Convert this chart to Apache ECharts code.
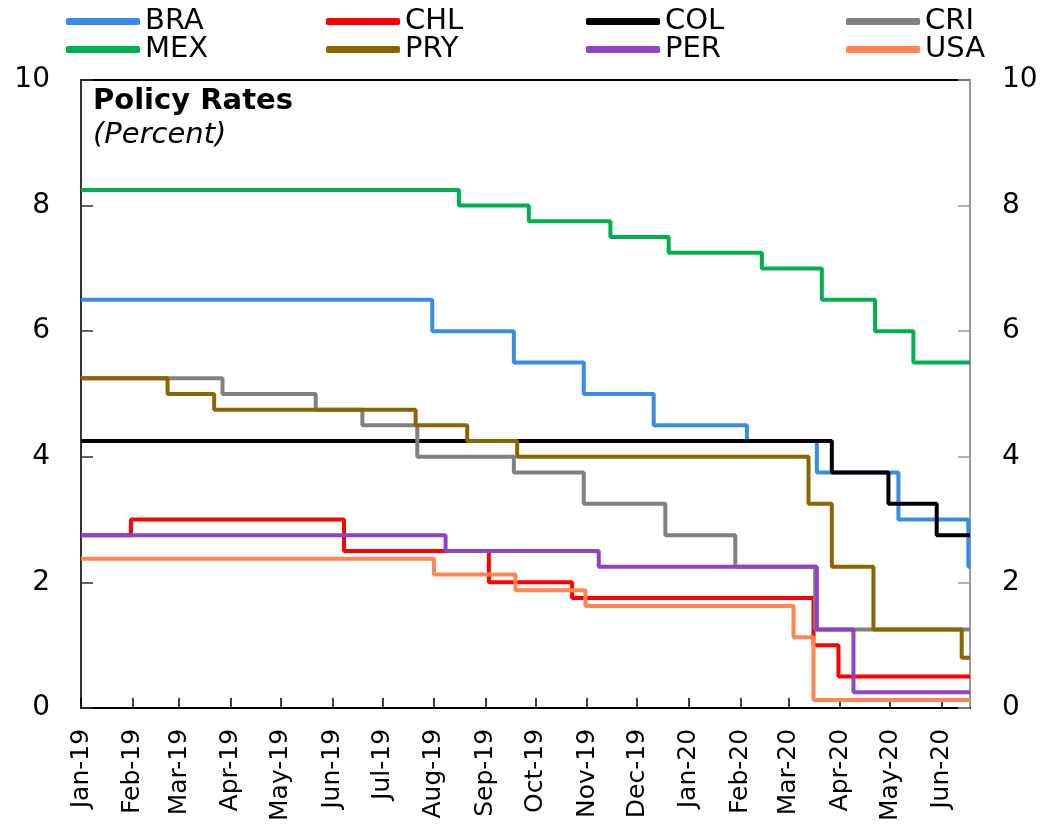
<!DOCTYPE html>
<html>
<head>
<meta charset="utf-8">
<script src="https://cdn.jsdelivr.net/npm/echarts@6/dist/echarts.min.js"></script>
<style>html,body{margin:0;padding:0;background:#fff}#c{width:1043px;height:824px}</style>
</head>
<body>
<div id="c"></div>
<script>
// ---- data (change dates & policy rates, percent) ----
const xStart = '2019-01-01';
const xEnd = '2020-06-18';
const tickLabels = ['Jan-19','Feb-19','Mar-19','Apr-19','May-19','Jun-19','Jul-19','Aug-19','Sep-19','Oct-19','Nov-19','Dec-19','Jan-20','Feb-20','Mar-20','Apr-20','May-20','Jun-20'];
const yTicks = [0, 2, 4, 6, 8, 10];
const countries = ['BRA','CHL','COL','CRI','MEX','PRY','PER','USA'];

const BRA = [['2019-01-01',6.5],['2019-07-31',6.0],['2019-09-18',5.5],['2019-10-30',5.0],['2019-12-11',4.5],['2020-02-05',4.25],['2020-03-18',3.75],['2020-05-06',3.0],['2020-06-17',2.25],['2020-06-18',2.25]];
const CHL = [['2019-01-01',2.75],['2019-01-31',3.0],['2019-06-08',2.5],['2019-09-03',2.0],['2019-10-23',1.75],['2020-03-16',1.0],['2020-03-31',0.5],['2020-06-18',0.5]];
const COL = [['2019-01-01',4.25],['2020-03-27',3.75],['2020-04-30',3.25],['2020-05-29',2.75],['2020-06-18',2.75]];
const CRI = [['2019-01-01',5.25],['2019-03-27',5.0],['2019-05-22',4.75],['2019-06-19',4.5],['2019-07-22',4.0],['2019-09-18',3.75],['2019-10-30',3.25],['2019-12-18',2.75],['2020-01-29',2.25],['2020-03-17',1.25],['2020-06-18',1.25]];
const MEX = [['2019-01-01',8.25],['2019-08-16',8.0],['2019-09-27',7.75],['2019-11-15',7.5],['2019-12-20',7.25],['2020-02-14',7.0],['2020-03-21',6.5],['2020-04-22',6.0],['2020-05-15',5.5],['2020-06-18',5.5]];
const PRY = [['2019-01-01',5.25],['2019-02-22',5.0],['2019-03-22',4.75],['2019-07-21',4.5],['2019-08-21',4.25],['2019-09-20',4.0],['2020-03-13',3.25],['2020-03-27',2.25],['2020-04-21',1.25],['2020-06-13',0.8],['2020-06-18',0.8]];
const PER = [['2019-01-01',2.75],['2019-08-08',2.5],['2019-11-08',2.25],['2020-03-18',1.25],['2020-04-09',0.25],['2020-06-18',0.25]];
const USA = [['2019-01-01',2.375],['2019-08-01',2.125],['2019-09-19',1.875],['2019-10-31',1.625],['2020-03-04',1.125],['2020-03-16',0.125],['2020-06-18',0.125]];

const seriesData = {BRA, CHL, COL, CRI, MEX, PRY, PER, USA};
const colors = {BRA:'#3A8BE8', CHL:'#FF0000', COL:'#000000', CRI:'#808080', MEX:'#00B050', PRY:'#8C6400', PER:'#8E42C6', USA:'#FF8552'};

// ---- chart ----
const FONT = 'DejaVu Sans';
const chart = echarts.init(document.getElementById('c'), null, {renderer:'canvas'});

const legendPos = [[66,7],[326,7],[586,7],[846,7],[66,35],[326,35],[586,35],[846,35]];
const legends = countries.map((n, i) => ({
  data: [n], left: legendPos[i][0], top: legendPos[i][1], padding: 0,
  icon: 'roundRect', itemWidth: 74, itemHeight: 7, itemGap: 0,
  selectedMode: false,
  textStyle: {fontFamily: FONT, fontSize: 29, color: '#000', lineHeight: 28}
}));

function fmtX(v) {
  const d = new Date(v);
  const idx = (d.getFullYear() - 2019) * 12 + d.getMonth();
  return tickLabels[idx] || '';
}

const yAxisCommon = {
  type: 'value', min: yTicks[0], max: yTicks[yTicks.length - 1], interval: 2,
  splitLine: {show: false},
  axisLabel: {fontFamily: FONT, fontSize: 28, color: '#000'}
};

chart.setOption({
  animation: false,
  backgroundColor: '#fff',
  title: {
    text: 'Policy Rates', subtext: '(Percent)', left: 93, top: 87, padding: 0, itemGap: 5,
    textStyle: {fontFamily: FONT, fontSize: 29, fontWeight: 'bold', color: '#000', lineHeight: 28},
    subtextStyle: {fontFamily: FONT, fontSize: 29, fontStyle: 'italic', color: '#000', lineHeight: 28}
  },
  legend: legends,
  grid: {left: 81, right: 73, top: 80, bottom: 112, show: true, borderColor: '#000', borderWidth: 2, backgroundColor: 'transparent'},
  xAxis: {
    type: 'time', min: xStart, max: xEnd, splitNumber: 18,
    minInterval: 28 * 86400000, maxInterval: 31 * 86400000,
    axisLine: {show: true, lineStyle: {color: '#000', width: 2}},
    axisTick: {show: true, inside: true, length: 10, lineStyle: {color: '#000', width: 1.5}},
    splitLine: {show: false},
    axisLabel: {rotate: 90, fontFamily: FONT, fontSize: 25, color: '#000', margin: 21, formatter: fmtX, showMaxLabel: false, hideOverlap: false}
  },
  yAxis: [
    Object.assign({}, yAxisCommon, {position: 'left',
      axisLine: {show: true, lineStyle: {color: '#333', width: 2}},
      axisTick: {show: true, inside: true, length: 12, lineStyle: {color: '#333', width: 1.5}},
      axisLabel: Object.assign({}, yAxisCommon.axisLabel, {margin: 31})}),
    Object.assign({}, yAxisCommon, {position: 'right',
      axisLine: {show: true, lineStyle: {color: '#999', width: 2}},
      axisTick: {show: true, inside: true, length: 12, lineStyle: {color: '#999', width: 1.5}},
      axisLabel: Object.assign({}, yAxisCommon.axisLabel, {margin: 32})})
  ],
  series: countries.map(n => ({
    name: n, type: 'line', step: 'end', data: seriesData[n], yAxisIndex: 0,
    symbol: 'none', color: colors[n],
    lineStyle: {width: 4, color: colors[n]}
  }))
});
</script>
</body>
</html>
